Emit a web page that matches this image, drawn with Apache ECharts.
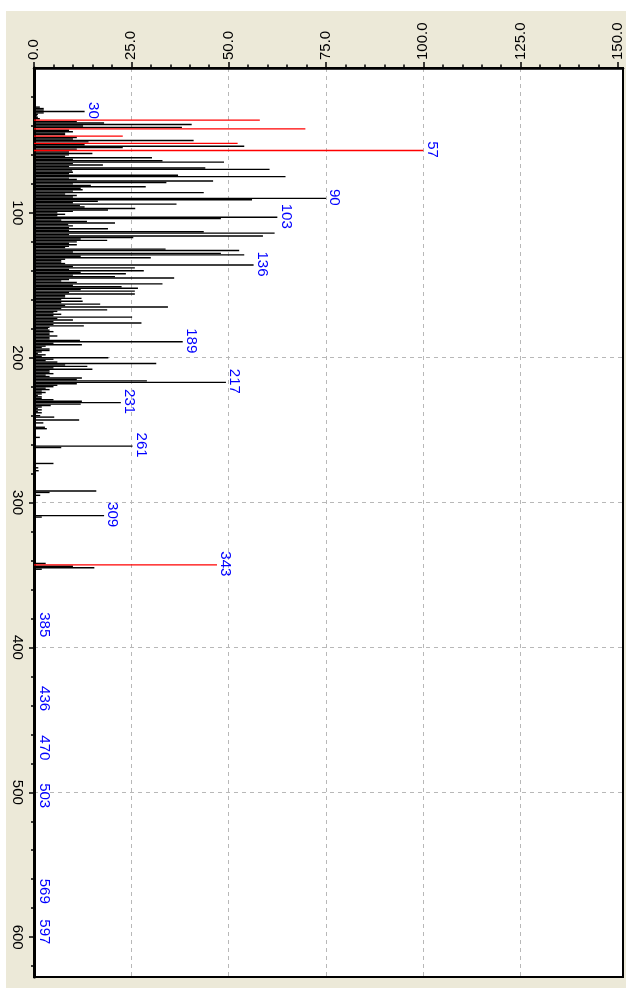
<!DOCTYPE html>
<html>
<head>
<meta charset="utf-8">
<style>
  html, body { margin: 0; padding: 0; background: #ffffff; }
  #chart { width: 626px; height: 988px; }
</style>
<script src="https://cdn.jsdelivr.net/npm/echarts@6/dist/echarts.min.js"></script>
</head>
<body>
<div id="chart"></div>
<script>
// Mass spectrum drawn sideways: m/z runs down the page, intensity runs to the right.

// m/z of ordinary (black) peaks
const mzBlack = [
  27, 28, 29, 30, 31, 32, 33, 34, 35, 37, 38, 39, 40, 41, 43, 44, 45, 46, 48, 49,
  50, 51, 53, 54, 55, 56, 58, 59, 60, 61, 62, 63, 64, 65, 66, 67, 68, 69, 70, 71,
  72, 73, 74, 75, 76, 77, 78, 79, 80, 81, 82, 83, 84, 85, 86, 87, 88, 89, 90, 91,
  92, 93, 94, 95, 96, 97, 98, 99, 100, 101, 102, 103, 104, 105, 106, 107, 108, 109, 110, 111,
  112, 113, 114, 115, 116, 117, 118, 119, 120, 121, 122, 123, 124, 125, 126, 127, 128, 129, 130, 131,
  132, 133, 134, 135, 136, 137, 138, 139, 140, 141, 142, 143, 144, 145, 146, 147, 148, 149, 150, 151,
  152, 153, 154, 155, 156, 157, 158, 159, 160, 161, 162, 163, 164, 165, 166, 167, 168, 169, 170, 171,
  172, 173, 174, 175, 176, 177, 178, 179, 180, 181, 182, 183, 184, 185, 186, 187, 188, 189, 190, 191,
  192, 193, 194, 195, 196, 197, 198, 199, 200, 201, 202, 203, 204, 205, 206, 207, 208, 209, 210, 211,
  212, 213, 214, 215, 216, 217, 218, 219, 220, 221, 222, 223, 224, 225, 226, 227, 228, 229, 230, 231,
  232, 233, 234, 235, 236, 237, 238, 240, 241, 243, 245, 248, 249, 255, 261, 262, 273, 276, 278, 292,
  293, 295, 309, 310, 342, 344, 345, 346, 385, 436, 470, 503, 569, 597
];
// relative intensity of each black peak (%)
const intBlack = [
  1.5, 2.5, 2.5, 13, 2.5, 1, 0.8, 1, 1.5, 11, 18, 40.5, 12.6, 38, 9, 10, 8, 8, 11, 10,
  41, 14, 13, 54, 22.8, 11, 9, 15, 9, 8, 30.3, 10, 33, 48.8, 10, 17.7, 9, 44, 60.5, 9.8,
  10, 9, 37, 64.6, 9, 11, 46, 34, 10, 14.6, 28.7, 12, 12.5, 10, 43.6, 8, 11, 10, 75, 56,
  16.4, 10, 36.6, 11.8, 13, 26, 19, 10, 6, 8, 6, 62.5, 48, 7, 13.6, 20.8, 8.8, 10, 9, 19,
  9, 43.6, 61.8, 9, 58.8, 25.5, 12, 18.8, 11, 9, 11, 9, 8, 33.8, 52.7, 10, 48, 54, 12, 30,
  8, 7, 7, 8, 56.4, 10, 25.9, 9, 28.2, 12, 23.6, 10, 20.8, 36, 9, 7, 11, 33, 10, 22.5,
  26.7, 12, 25.9, 9, 25.9, 8, 8, 12.2, 7, 12.5, 7, 17, 8, 34.4, 7, 18.8, 6, 5, 7, 5,
  25.2, 6, 10, 5, 27.6, 5, 12.8, 4, 3.6, 4, 5, 4, 4, 6, 4, 4, 11.8, 38.2, 5, 12.3,
  3, 2, 4, 4, 2, 1, 3, 2, 19.1, 5, 3, 6, 31.4, 8, 13.7, 5, 15, 4, 4, 5,
  3, 4, 12.3, 11, 29, 49.3, 11, 6, 5, 3, 4, 2, 3, 2, 1, 2, 2, 5, 12.3, 22.3,
  12, 4.3, 2, 1, 2, 1, 2, 1.6, 5.2, 11.6, 2.4, 2.8, 3.3, 1.5, 25.3, 7, 5, 1.1, 1.2, 16,
  4, 1.6, 18, 2, 3, 10, 15.5, 2, 0.4, 0.3, 0.3, 0.3, 0.3, 0.4
];

// highlighted (red) peaks
const mzRed = [36, 42, 47, 52, 57, 343];
const intRed = [58, 69.7, 22.8, 52.3, 100, 47];

// peaks carrying an m/z label
const labelMz = [30, 57, 90, 103, 136, 189, 217, 231, 261, 309, 343, 385, 436, 470, 503, 569, 597];

// axis ticks
const intensityTicks = [0, 25, 50, 75, 100, 125, 150];
const intensityMinorTicks = [5, 10, 15, 20, 30, 35, 40, 45, 55, 60, 65, 70, 80, 85, 90, 95,
  105, 110, 115, 120, 130, 135, 140, 145];
const mzTicks = [100, 200, 300, 400, 500, 600];
const mzMinorTicks = [20, 40, 60, 80, 120, 140, 160, 180, 220, 240, 260, 280, 320, 340, 360, 380,
  420, 440, 460, 480, 520, 540, 560, 580, 620];

const INT_MAX = 151.28;
const MZ_MAX = 627.5;
const FONT = "'Liberation Sans', Arial, sans-serif";

function pairs(xs, ys) { return xs.map((x, i) => [x, ys[i]]); }

const allPeaks = new Map();
mzBlack.forEach((m, i) => allPeaks.set(m, intBlack[i]));
mzRed.forEach((m, i) => allPeaks.set(m, intRed[i]));
const labelData = labelMz.map(m => [m, allPeaks.get(m) || 0]);

function stickRenderer(color, width) {
  return function (params, api) {
    const mz = api.value(0);
    const inten = api.value(1);
    const a = api.coord([0, mz]);
    const b = api.coord([inten, mz]);
    return {
      type: 'line',
      shape: { x1: a[0], y1: a[1], x2: b[0], y2: b[1] },
      style: { stroke: color, lineWidth: width }
    };
  };
}

function labelRenderer(params, api) {
  const mz = api.value(0);
  const inten = api.value(1);
  const p = api.coord([inten, mz]);
  return {
    type: 'text',
    x: p[0] + 1,
    y: p[1] - 1,
    rotation: -Math.PI / 2,
    style: {
      text: String(mz),
      fill: '#0000ff',
      font: '15px ' + FONT,
      align: 'center',
      verticalAlign: 'bottom'
    }
  };
}

const chart = echarts.init(document.getElementById('chart'), null, { renderer: 'canvas' });

const axisLabelBase = { rotate: -90, color: '#000', fontFamily: FONT, fontSize: 15 };

chart.setOption({
  animation: false,
  backgroundColor: '#ffffff',
  graphic: [{
    type: 'rect', z: -10, silent: true,
    shape: { x: 6, y: 11, width: 620, height: 977 },
    style: { fill: '#ece9d8' }
  }],
  grid: {
    left: 34, top: 68, right: 3, bottom: 11,
    show: true, backgroundColor: '#ffffff', borderColor: '#000', borderWidth: 2
  },
  xAxis: [{
    type: 'value', position: 'top', min: 0, max: INT_MAX, interval: 25,
    axisLine: { show: true, onZero: false, lineStyle: { color: '#000', width: 2.5 } },
    axisTick: { show: true, length: 6, lineStyle: { color: '#000', width: 1.5 }, customValues: intensityTicks },
    axisLabel: Object.assign({}, axisLabelBase, {
      margin: 8, customValues: intensityTicks,
      formatter: v => v.toFixed(1)
    }),
    splitLine: { show: true, showMinLine: false, showMaxLine: false,
      lineStyle: { color: '#b8b8b8', type: [4, 4], width: 1 } }
  }, {
    type: 'value', position: 'top', min: 0, max: INT_MAX,
    axisLine: { show: false },
    axisTick: { show: true, length: 3.5, lineStyle: { color: '#000', width: 1.5 }, customValues: intensityMinorTicks },
    axisLabel: { show: false },
    splitLine: { show: false }
  }],
  yAxis: [{
    type: 'value', position: 'left', inverse: true, min: 0, max: MZ_MAX, interval: 100,
    axisLine: { show: true, onZero: false, lineStyle: { color: '#000', width: 3 } },
    axisTick: { show: true, length: 5, lineStyle: { color: '#000', width: 1.5 }, customValues: mzTicks },
    axisLabel: Object.assign({}, axisLabelBase, { margin: 9, customValues: mzTicks }),
    splitLine: { show: true, showMinLine: false, showMaxLine: false,
      lineStyle: { color: '#b8b8b8', type: [4, 4], width: 1 } }
  }, {
    type: 'value', position: 'left', inverse: true, min: 0, max: MZ_MAX,
    axisLine: { show: false },
    axisTick: { show: true, length: 3, lineStyle: { color: '#000', width: 1.5 }, customValues: mzMinorTicks },
    axisLabel: { show: false },
    splitLine: { show: false }
  }],
  series: [{
    type: 'custom', name: 'peaks', xAxisIndex: 0, yAxisIndex: 0,
    data: pairs(mzBlack, intBlack),
    encode: { x: 1, y: 0 },
    renderItem: stickRenderer('#000000', 1.4),
    z: 2
  }, {
    type: 'custom', name: 'highlighted', xAxisIndex: 0, yAxisIndex: 0,
    data: pairs(mzRed, intRed),
    encode: { x: 1, y: 0 },
    renderItem: stickRenderer('#ff0000', 1.4),
    z: 3
  }, {
    type: 'custom', name: 'labels', xAxisIndex: 0, yAxisIndex: 0,
    data: labelData,
    encode: { x: 1, y: 0 },
    renderItem: labelRenderer,
    z: 4
  }]
});
</script>
</body>
</html>
